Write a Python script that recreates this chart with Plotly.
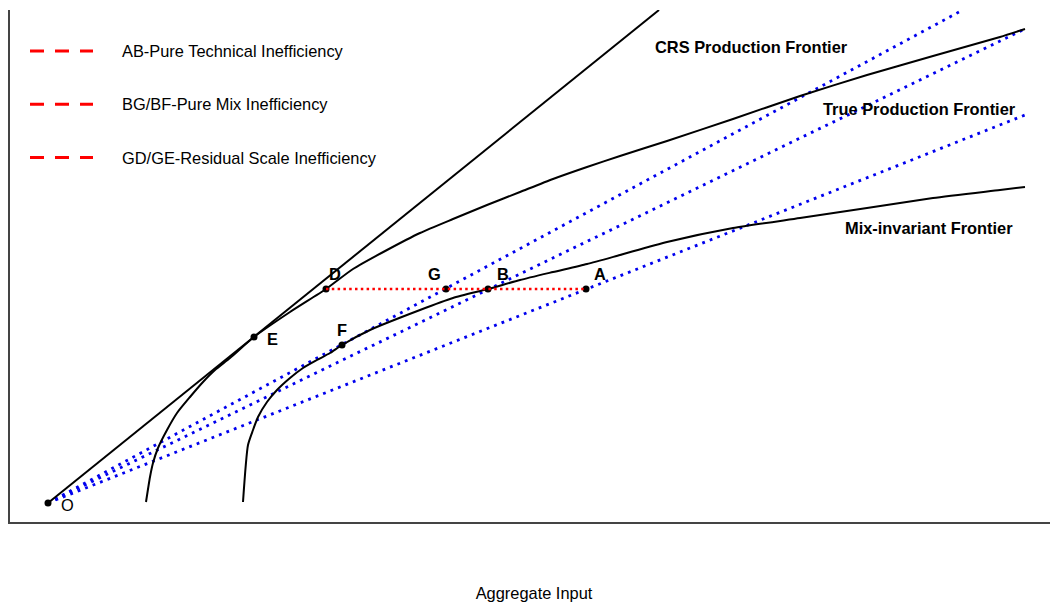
import plotly.graph_objects as go

# ---------------- data ----------------
point_names = ["O", "E", "D", "F", "G", "B", "A"]
point_x = [3.8, 24.4, 31.6, 33.2, 43.6, 47.8, 57.6]
point_y = [1.9, 18.5, 23.3, 17.7, 23.3, 23.3, 23.3]

crs_x = [3.8, 64.9]
crs_y = [1.9, 51.2]

true_x = [13.6, 14.0, 14.3, 14.8, 15.7, 16.7, 18.0, 19.3, 20.5, 22.0, 24.4, 28.0,
          31.6, 34.3, 37.7, 41.0, 44.3, 47.7, 51.0, 54.3, 57.7, 61.0, 65.7, 72.3,
          79.0, 85.7, 92.3, 99.0, 101.5]
true_y = [2.0, 4.5, 5.9, 7.4, 9.2, 10.9, 12.5, 14.0, 15.2, 16.4, 18.5, 21.0,
          23.3, 25.3, 27.2, 28.9, 30.3, 31.7, 33.0, 34.3, 35.5, 36.6, 38.1, 40.3,
          42.6, 44.7, 46.6, 48.5, 49.3]

mix_x = [23.3, 23.8, 24.3, 24.8, 25.7, 26.7, 28.0, 29.3, 30.7, 32.0, 33.2, 36.0,
         41.0, 44.3, 47.8, 51.0, 54.3, 57.7, 61.0, 65.7, 72.3, 79.0, 85.7, 92.3,
         99.0, 101.5]
mix_y = [2.0, 7.7, 9.2, 10.5, 12.0, 13.2, 14.4, 15.4, 16.2, 16.9, 17.7, 19.2,
         21.2, 22.4, 23.3, 24.2, 25.0, 25.8, 26.7, 28.0, 29.4, 30.4, 31.4, 32.4,
         33.2, 33.5]

ray_start = (3.8, 1.9)
ray_end_x = [94.9, 101.5, 101.5]
ray_end_y = [51.0, 49.3, 40.7]

ineff_x = [31.6, 57.6]
ineff_y = [23.3, 23.3]

legend_labels = ["AB-Pure Technical Inefficiency",
                 "BG/BF-Pure Mix Inefficiency",
                 "GD/GE-Residual Scale Inefficiency"]

curve_labels = ["CRS Production Frontier", "True Production Frontier", "Mix-invariant Frontier"]
curve_label_x = [64.3, 81.1, 83.3]
curve_label_y = [47.5, 41.3, 29.4]

x_title = "Aggregate Input"

# ---------------- styling ----------------
PAGE_OFF = 8            # default body margin of the html page
W, H = 1058 - PAGE_OFF, 607 - PAGE_OFF
ML, MR, MT, MB = 2, 0, 2, 85
XR = [0, 104.8]
YR = [0, 51.2]
FONT = "Liberation Sans, Arial, sans-serif"
FS = 16.4
BLACK = "#000000"
BLUE = "#0000ee"
RED = "#ff0000"

label_shift = {"O": (19, -2), "E": (18, -2), "D": (9, 15), "F": (0, 15),
               "G": (-12, 15), "B": (15, 15), "A": (14, 15)}

fig = go.Figure()

# blue rays
for ex, ey in zip(ray_end_x, ray_end_y):
    fig.add_trace(go.Scatter(x=[ray_start[0], ex], y=[ray_start[1], ey], mode="lines",
                             line=dict(color=BLUE, width=2.8, dash="2.8px,5.2px"),
                             showlegend=False, hoverinfo="skip"))

# frontiers
fig.add_trace(go.Scatter(x=crs_x, y=crs_y, mode="lines",
                         line=dict(color=BLACK, width=2),
                         showlegend=False, hoverinfo="skip"))
for xs, ys in [(true_x, true_y), (mix_x, mix_y)]:
    fig.add_trace(go.Scatter(x=xs, y=ys, mode="lines",
                             line=dict(color=BLACK, width=2, shape="spline", smoothing=0.6),
                             showlegend=False, hoverinfo="skip"))

# points
fig.add_trace(go.Scatter(x=point_x, y=point_y, mode="markers",
                         marker=dict(color=BLACK, size=7),
                         showlegend=False, hoverinfo="skip"))

# red inefficiency line
fig.add_trace(go.Scatter(x=ineff_x, y=ineff_y, mode="lines",
                         line=dict(color=RED, width=2.5, dash="2.5px,3.3px"),
                         showlegend=False, hoverinfo="skip"))

annotations = []
for n, px, py in zip(point_names, point_x, point_y):
    dx, dy = label_shift[n]
    annotations.append(dict(x=px, y=py, xref="x", yref="y", text=n if n == "O" else f"<b>{n}</b>",
                            showarrow=False, xshift=dx, yshift=dy,
                            font=dict(family=FONT, size=FS, color=BLACK)))

for t, cx, cy in zip(curve_labels, curve_label_x, curve_label_y):
    annotations.append(dict(x=cx, y=cy, xref="x", yref="y", text=f"<b>{t}</b>",
                            showarrow=False, xanchor="left", yanchor="middle",
                            font=dict(family=FONT, size=FS, color=BLACK)))

# custom legend (window pixel positions converted to paper coords)
pw = W - ML - MR
ph = H - MT - MB
def px2paper(px, py):
    fx, fy = px - PAGE_OFF, py - PAGE_OFF
    return (fx - ML) / pw, (H - MB - fy) / ph

shapes = []
for i, lab in enumerate(legend_labels):
    yy = 51 + i * 53.3
    x0, y0 = px2paper(30, yy)
    x1, _ = px2paper(93, yy)
    shapes.append(dict(type="line", xref="paper", yref="paper", x0=x0, x1=x1, y0=y0, y1=y0,
                       line=dict(color=RED, width=3, dash="14px,11px")))
    tx, ty = px2paper(120, yy)
    annotations.append(dict(x=tx, y=ty, xref="paper", yref="paper", text=lab,
                            showarrow=False, xanchor="left", yanchor="middle",
                            font=dict(family=FONT, size=FS, color=BLACK)))

fig.update_layout(
    width=W, height=H,
    margin=dict(l=ML, r=MR, t=MT, b=MB),
    paper_bgcolor="white", plot_bgcolor="white",
    annotations=annotations, shapes=shapes,
    showlegend=False,
    font=dict(family=FONT, size=FS, color=BLACK),
)
fig.update_xaxes(range=XR, showgrid=False, zeroline=False, showticklabels=False, ticks="",
                 showline=True, linecolor="#444444", linewidth=1.5,
                 title=dict(text=x_title, standoff=65, font=dict(family=FONT, size=FS, color=BLACK)),
                 automargin=False)
fig.update_yaxes(range=YR, showgrid=False, zeroline=False, showticklabels=False, ticks="",
                 showline=True, linecolor="#444444", linewidth=1.5, automargin=False)

fig.write_html("out.html")
